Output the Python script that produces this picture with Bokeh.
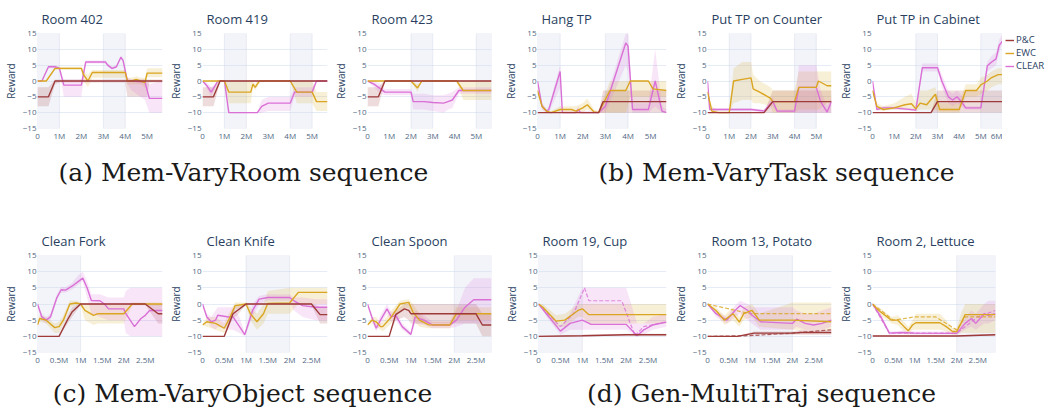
from bokeh.plotting import figure
from bokeh.layouts import column, row
from bokeh.models import (Range1d, FixedTicker, BoxAnnotation, Legend, LegendItem,
                          Label, CustomJSTickFormatter)
from bokeh.embed import file_html
from bokeh.resources import INLINE

PC_C = "#9E3A3A"
EWC_C = "#DAA520"
CLEAR_C = "#DA70D6"
FONT = "Open Sans"
TXT = "#2a3f5f"
SERIES_NAMES = ["P&C", "EWC", "CLEAR"]

# ---------------- (a) Mem-VaryRoom ----------------
r402_pc_x = [0, 0.5, 0.8, 1.0, 4.0, 4.1, 5.0, 5.1, 5.7]
r402_pc_y = [-5, -5, 0, 0, 0, 0, 0, 0, 0]
r402_pc_lo = [-8, -8, -1, -0.5, -0.5, -5, -5, -0.5, -0.5]
r402_pc_hi = [-2, -2, 0.5, 0.5, 0.5, 0.5, 0.5, 0.5, 0.5]
r402_ewc_x = [0, 0.4, 0.8, 2.0, 2.1, 2.3, 2.5, 4.0, 4.1, 4.3, 4.5, 4.7, 4.9, 5.0, 5.7]
r402_ewc_y = [0, 0, 4, 4, 2, 0, 2.7, 2.7, 0, 0, 0.5, 0, -0.5, 2.5, 2.5]
r402_ewc_lo = [0, 0, 3.5, 3.5, 0, -2, 1, 1, -1, -1, -1, -1, -2, 1.2, 1.2]
r402_ewc_hi = [0, 0, 4.5, 4.5, 3, 2, 3.5, 3.5, 1, 1, 1.5, 1, 1, 4, 4]
r402_clr_x = [0, 0.2, 0.5, 0.8, 1.0, 1.2, 2.0, 2.2, 3.1, 3.2, 3.4, 3.6, 3.8, 3.9, 4.1, 4.3, 4.9, 5.1, 5.7]
r402_clr_y = [0, 0, 4.5, 4.5, 4, -1.3, -1.3, 6, 6, 5, 4, 4.5, 7.5, 6.5, 0, 0, -0.3, -5.5, -5.5]
r402_clr_lo = [0, 0, 4, 4, 3.5, -5, -5, 5.5, 5.5, 4.5, 3.5, 4, 7, 6, -1, -3, -6, -10, -10]
r402_clr_hi = [0, 0, 5, 5, 4.5, 0.5, 0.5, 6.5, 6.5, 5.5, 4.5, 5, 8, 7, 1, 0.5, 0.5, -1, 0]

r419_pc_x = [0, 0.5, 0.8, 5.7]
r419_pc_y = [-5, -5, 0, 0]
r419_pc_lo = [-8, -8, -0.3, -0.3]
r419_pc_hi = [-2, -2, 0.3, 0.3]
r419_ewc_x = [0, 1.0, 1.2, 2.2, 2.3, 2.4, 2.5, 2.6, 4.0, 4.3, 5.0, 5.2, 5.7]
r419_ewc_y = [0, 0, -3.5, -3.5, -1, -2, -1, 0, 0, -3.5, -3.5, -6.5, -6.5]
r419_ewc_lo = [0, 0, -7, -7, -2, -3, -2, 0, 0, -7, -7, -9.5, -9.5]
r419_ewc_hi = [0, 0, 0, 0, 0, -1, 0, 0, 0, 0, 0, -3.5, -3.5]
r419_clr_x = [0, 0.2, 0.4, 0.7, 1.0, 1.2, 2.5, 2.7, 3.0, 4.0, 4.2, 5.0, 5.2, 5.7]
r419_clr_y = [0, -1.5, -3.5, 0, 0, -10, -10, -8, -7, -7, -3.5, -3.5, 0, 0]
r419_clr_lo = [0, -2.5, -5, 0, 0, -10.2, -10.2, -10, -9.5, -9.5, -5, -5, 0, 0]
r419_clr_hi = [0, -0.5, -2, 0, 0, -9.8, -9.8, -6, -5, -5, -2, -2, 0, 0]

r423_pc_x = [0, 0.5, 0.8, 5.7]
r423_pc_y = [-5, -5, 0, 0]
r423_pc_lo = [-8, -8, -0.3, -0.3]
r423_pc_hi = [-2, -2, 0.3, 0.3]
r423_ewc_x = [0, 2.0, 2.3, 2.5, 4.1, 4.4, 5.7]
r423_ewc_y = [0, 0, -2.2, 0, 0, -3, -3]
r423_ewc_lo = [0, 0, -3.5, 0, 0, -6, -6]
r423_ewc_hi = [0, 0, -1, 0, 0, 0, 0]
r423_clr_x = [0, 0.3, 0.6, 0.8, 2.0, 2.1, 2.6, 3.0, 3.5, 3.7, 3.9, 4.2, 5.7]
r423_clr_y = [0, -1, -2.5, -3.5, -3.5, -6.5, -6.5, -6.8, -7, -6.5, -6, -3, -3]
r423_clr_lo = [0, -2, -4, -4.5, -4.5, -9, -9, -9.5, -10, -9, -8.5, -4, -4]
r423_clr_hi = [0, 0, -1, -2.5, -2.5, -4, -4, -4.5, -4.5, -4, -3.5, -2, -2]

# ---------------- (b) Mem-VaryTask ----------------
hang_pc_x = [0, 2.7, 2.9, 5.7]
hang_pc_y = [-10, -10, -6.5, -6.5]
hang_pc_lo = [-10, -10, -10, -10]
hang_pc_hi = [-10, -10, -3, -3]
hang_ewc_x = [0, 0.2, 0.4, 0.6, 1.0, 1.5, 1.7, 2.0, 2.2, 2.5, 2.7, 3.2, 3.9, 4.1, 4.9, 5.1, 5.7]
hang_ewc_y = [-3, -8, -9.5, -10, -9, -9, -9.5, -8.5, -7.5, -9.8, -10, -3, -3, 0, 0, -2.5, -3]
hang_ewc_lo = [-3, -9, -10, -10, -10, -10, -10, -10, -9, -10, -10, -10, -10, -5, -5, -5, -5]
hang_ewc_hi = [-3, -7, -9, -9.5, -8, -8, -8, -7, -5.5, -9, -9.5, 0, 0, 0, 0, 0, 0]
hang_clr_x = [0, 0.2, 0.4, 0.5, 1.0, 1.1, 1.7, 1.8, 1.9, 2.7, 3.0, 3.9, 4.0, 4.2, 4.9, 5.2, 5.5, 5.7]
hang_clr_y = [0, -8, -9.5, -9, 3, -10, -10, -9, -10, -10, -8, 12, 11, -9, -9, 0, -9.5, -10]
hang_clr_lo = [0, -9, -10, -10, -2, -10, -10, -10, -10, -10, -10, 5, 3, -10, -10, -8, -10, -10]
hang_clr_hi = [0, -7, -9, -8, 5, -9.5, -9.5, -8, -9.5, -9.5, -6, 15, 15, -7, -7, 10, -8, -9]

ctr_pc_x = [0, 2.6, 3.0, 5.7]
ctr_pc_y = [-10, -10, -6.5, -6.5]
ctr_pc_lo = [-10, -10, -10, -10]
ctr_pc_hi = [-10, -10, -3, -3]
ctr_ewc_x = [0, 0.2, 0.5, 1.0, 1.2, 1.6, 2.0, 2.1, 2.4, 2.9, 3.0, 4.0, 4.2, 5.0, 5.1, 5.5, 5.7]
ctr_ewc_y = [-3.5, -9.5, -10, -10, 0, 0.5, 1, -2.5, -3.5, -5.5, -6.5, -6.5, -2, -2, 0, -1.5, -1.5]
ctr_ewc_lo = [-3.5, -10, -10, -10, -7, -6, -6, -7, -7, -8, -10, -10, -9, -9, -9, -7, -7]
ctr_ewc_hi = [-3.5, -8, -9.5, -9.5, 4, 6, 6, 2, 0, -2, -3, -3, 3, 3, 3, 3, 3]
ctr_clr_x = [0, 0.1, 1.0, 2.0, 2.6, 3.0, 3.2, 4.0, 4.2, 5.0, 5.2, 5.5, 5.7]
ctr_clr_y = [0, -9, -9, -9, -9.5, -6.5, -9.5, -9.5, -2, -2, -6.5, -9.8, -6.5]
ctr_clr_lo = [0, -9.5, -9.5, -9.5, -10, -8, -10, -10, -10, -10, -10, -10, -10]
ctr_clr_hi = [0, -8.5, -8.5, -8.5, -9, -5, -9, -9, 5, 5, -3, -8, -5]

cab_pc_x = [0, 2.7, 3.0, 6.0]
cab_pc_y = [-10, -10, -6.5, -6.5]
cab_pc_lo = [-10, -10, -10, -10]
cab_pc_hi = [-10, -10, -3, -3]
cab_ewc_x = [0, 0.2, 0.5, 1.0, 1.5, 1.8, 2.0, 2.2, 2.5, 2.9, 3.1, 4.0, 4.3, 4.8, 5.0, 5.3, 5.5, 5.8, 6.0]
cab_ewc_y = [-3, -8, -9, -8.5, -7.5, -7.2, -8.8, -7, -7.5, -4.2, -9, -9, -3, -3, -1.2, 0, 1.1, 2, 2]
cab_ewc_lo = [-3, -9, -9.5, -9, -9, -9, -9.5, -9, -9, -9, -10, -10, -5, -5, -4, -3, -2, -1, -1]
cab_ewc_hi = [-3, -7, -8, -7, -5, -4, -7, -3, -3, -2, -7, -7, -1, -1, 1, 2, 3, 4, 4]
cab_clr_x = [0, 0.2, 0.5, 1.0, 2.0, 2.3, 3.0, 3.2, 3.5, 3.7, 3.9, 4.1, 4.3, 5.0, 5.3, 5.5, 5.7, 5.85, 6.0]
cab_clr_y = [0, -9, -8.5, -8.5, -9.2, 4.2, 4.2, 0, -5, -6, -5, -6.5, -8.5, -8.5, 4.8, 6, 7, 11.3, 12.6]
cab_clr_lo = [0, -9.5, -9, -9, -9.5, 3, 3, -2, -7, -8, -7, -8, -9, -9, 3, 4, 5, 9, 12]
cab_clr_hi = [0, -8.5, -8, -8, -8.8, 5.5, 5.5, 2, -3, -4, -3, -4.5, -8, -8, 6, 8, 9, 13, 15]

# ---------------- (c) Mem-VaryObject ----------------
fork_pc_x = [0, 0.5, 0.7, 0.8, 1.0, 2.5, 2.8, 2.9]
fork_pc_y = [-10, -10, -4.8, -2.5, 0, 0, -3, -3]
fork_pc_lo = [-10, -10, -6, -4, -0.3, -0.3, -6, -6]
fork_pc_hi = [-10, -10, -3.5, -1, 0.3, 0.3, 0, 0]
fork_ewc_x = [0, 0.05, 0.2, 0.4, 0.5, 0.6, 0.75, 0.9, 1.0, 1.1, 1.3, 1.4, 2.0, 2.2, 2.9]
fork_ewc_y = [-6.5, -4.5, -5, -7.3, -7, -5, 0, 0.3, 0, -2, -3.5, -3, -3, 0, 0]
fork_ewc_lo = [-6.5, -5.5, -6, -9, -9, -6.5, -1, -0.5, -0.5, -5, -6.5, -6, -6, -0.5, -0.5]
fork_ewc_hi = [-6.5, -3.5, -4, -6, -5.5, -3.5, 1, 1, 0.5, 0, 0, 0, 0, 0.5, 0.5]
fork_clr_x = [0, 0.1, 0.2, 0.3, 0.45, 0.55, 0.65, 0.8, 0.95, 1.05, 1.15, 1.25, 1.45, 1.55, 1.65, 2.0, 2.05,
              2.15, 2.25, 2.4, 2.5, 2.6, 2.9]
fork_clr_y = [0, -4, -5, -4, 2, 4.4, 4.3, 5.5, 7, 8, 5, 1.1, 1, 0, -1.5, -1.5, -3, -5, -7, -4.5, -3.5, -2, -2]
fork_clr_lo = [0, -5, -6, -5, 1, 3.5, 3.5, 4.5, 6, 7, 2, -3, -4, -4.5, -5, -5, -9, -10, -10, -10, -10, -10, -10]
fork_clr_hi = [0, -3, -4, -3, 3, 5.3, 5.2, 6.5, 9, 10, 7, 3, 3, 2.5, 2, 2, 4, 5, 5, 5, 5, 5, 5]

knife_pc_x = [0, 0.5, 0.7, 0.8, 0.95, 1.0, 2.5, 2.7, 2.87]
knife_pc_y = [-10, -10, -3, -2, -0.5, 0, 0, -3.3, -3.3]
knife_pc_lo = [-10, -10, -4.5, -3.5, -1, -0.3, -0.3, -6, -6]
knife_pc_hi = [-10, -10, -1.5, -0.5, 0, 0.3, 0.3, -1, -1]
knife_ewc_x = [0, 0.1, 0.3, 0.5, 0.6, 0.75, 1.0, 1.1, 1.25, 1.4, 1.5, 2.0, 2.2, 2.87]
knife_ewc_y = [-6.5, -5.5, -6, -7.5, -5, -0.5, 0, -3, -5.5, -3, 0.2, 0.3, 3.6, 3.6]
knife_ewc_lo = [-6.5, -7, -8, -9, -7, -1.5, -0.5, -5, -8, -6, -3, -3, 0, 0]
knife_ewc_hi = [-6.5, -4, -4, -6, -3, 0.5, 0.5, -1, -3, 0, 4, 5, 5, 5]
knife_clr_x = [0, 0.1, 0.2, 0.3, 0.35, 0.6, 0.7, 0.85, 0.97, 1.15, 1.3, 1.5, 2.0, 2.1, 2.3, 2.6, 2.87]
knife_clr_y = [0, -4, -5.5, -5, -3.5, -4, -4, -7, -9.5, -2, 1.5, 2, 2, 1, -0.5, -1, -1]
knife_clr_lo = [0, -5, -7, -8, -7, -8, -8, -9, -10, -4, 0, 1, 1, -2, -4, -5, -5]
knife_clr_hi = [0, -3, -4, -2, -1, -1, -1, -4, -9, 0, 2.5, 3, 3, 2, 2, 1.5, 1.5]

spoon_pc_x = [0, 0.5, 0.65, 0.85, 0.95, 1.0, 2.5, 2.65, 2.86]
spoon_pc_y = [-10, -10, -3.3, -1.5, -2, -3, -3, -6.5, -6.5]
spoon_pc_lo = [-10, -10, -5, -4, -5, -6, -6, -10, -10]
spoon_pc_hi = [-10, -10, -2, 0, 0, 0, 0, -3, -3]
spoon_ewc_x = [0, 0.1, 0.2, 0.3, 0.35, 0.55, 0.75, 0.95, 1.05, 1.2, 1.4, 1.9, 2.05, 2.86]
spoon_ewc_y = [-6.5, -5, -5.5, -7, -7, -4, 0, 0.5, -2.5, -5, -6.4, -6.5, -3, -3]
spoon_ewc_lo = [-6.5, -6, -7, -8, -8.5, -6, -2, -1, -5, -7, -7.5, -7.5, -5, -5]
spoon_ewc_hi = [-6.5, -4, -4, -6, -5.5, -2, 1, 1.5, 0, -3, -5.5, -5.5, -1, -1]
spoon_clr_x = [0, 0.1, 0.2, 0.3, 0.45, 0.55, 0.65, 0.8, 1.0, 1.1, 1.3, 1.5, 1.9, 2.05, 2.25, 2.45, 2.86]
spoon_clr_y = [0, -4, -7.5, -5, -1.5, -4, -3.5, -7, -9.4, -4, -5, -6.5, -6.5, -5, -1, 1.3, 1.3]
spoon_clr_lo = [0, -5, -8.5, -6.5, -3, -5.5, -5, -8, -10, -6, -6.5, -7.5, -7.5, -7, -6, -6, -6]
spoon_clr_hi = [0, -3, -6.5, -3.5, 0, -2.5, -2, -6, -8.5, -2, -3.5, -5.5, -5.5, -2, 5, 8, 8]

# ---------------- (d) Gen-MultiTraj ----------------
cup_pc_x = [0, 1.0, 2.0, 2.92]
cup_pc_y = [-10, -9.8, -9.5, -9.5]
cup_pc_lo = [-10.2, -10, -9.8, -9.8]
cup_pc_hi = [-9.8, -9.5, -9.2, -9.2]
cup_ewc_x = [0, 0.1, 0.4, 0.6, 0.8, 0.9, 1.0, 1.15, 2.92]
cup_ewc_y = [0, -1, -5.3, -5, -3, -2, -1.5, -3.3, -3.3]
cup_ewc_lo = [0, -2, -7, -7, -5, -4, -4, -6, -6]
cup_ewc_hi = [0, 0, -3.5, -3, -1, 0, 0, 0, 0]
cup_clr_x = [0, 0.24, 0.5, 0.72, 1.0, 1.2, 2.0, 2.25, 2.4, 2.6, 2.92]
cup_clr_y = [0, -4, -8.4, -6, -5, -6.3, -6.3, -9.8, -8, -6.5, -5.6]
cup_clr_lo = [0, -5, -9.5, -8, -8, -8, -8, -10, -9.5, -8, -7]
cup_clr_hi = [0, -3, -7, -3, 5, 5, 5, -6, -6, -4, -3]
cup_clrd_x = [0, 0.5, 0.8, 1.05, 1.15, 1.9, 2.2, 2.4, 2.92]
cup_clrd_y = [0, -7, -3, 5, 1, 1, -9.8, -7, -5.5]

pot_pc_x = [0, 0.7, 1.1, 2.0, 2.2, 2.92]
pot_pc_y = [-10, -10, -9, -9, -8.8, -8.8]
pot_pc_lo = [-10, -10, -9.5, -9.5, -9.5, -9.5]
pot_pc_hi = [-10, -10, -8.5, -8.5, -8, -8]
pot_ewc_x = [0, 0.2, 0.4, 0.6, 0.75, 0.85, 1.05, 1.22, 2.0, 2.92]
pot_ewc_y = [0, -2, -5, -3, -5.6, -3, -2, -5, -5, -5.5]
pot_ewc_lo = [0, -3, -6.5, -5, -7, -5, -4, -7, -8, -8]
pot_ewc_hi = [0, -1, -3.5, -1, -4, -1, 0, -3, 0.5, 0.5]
pot_clr_x = [0, 0.2, 0.45, 0.65, 0.77, 0.95, 1.05, 1.25, 2.0, 2.1, 2.3, 2.5, 2.7, 2.92]
pot_clr_y = [0, -3, -5, -2, -0.5, -2, -3.5, -5.5, -6, -4.7, -6, -6.5, -6, -5]
pot_clr_lo = [0, -4, -6, -4, -3, -5, -6, -8, -8, -7, -8, -8, -8, -7]
pot_clr_hi = [0, -2, -4, -0.5, 1, 0, -1, -1, -1, -2, -3, -3, -2, -1]
pot_pcd_x = [0, 1.0, 2.0, 2.92]
pot_pcd_y = [-10, -9.8, -9, -8]
pot_ewcd_x = [0, 1.0, 2.0, 2.92]
pot_ewcd_y = [0, -3, -3, -3]

let_pc_x = [0, 2.0, 2.92]
let_pc_y = [-9.9, -9.9, -9.5]
let_pc_lo = [-10, -10, -9.8]
let_pc_hi = [-9.7, -9.7, -9.2]
let_ewc_x = [0, 0.15, 0.25, 0.45, 0.6, 0.75, 0.85, 0.95, 1.03, 1.6, 1.75, 1.9, 2.0, 2.1, 2.2, 2.92]
let_ewc_y = [0, -2, -3, -5, -5, -7, -8.3, -6.5, -5.8, -5.8, -7, -8.5, -8.5, -6, -3.3, -3.3]
let_ewc_lo = [0, -3, -4, -6, -6.5, -8.5, -9.5, -8, -8, -8, -8.5, -9.5, -9.5, -9, -9, -9]
let_ewc_hi = [0, -1, -2, -4, -3.5, -5.5, -7, -5, -3, -3, -5, -7.5, -7.5, -3, 0, 0]
let_clr_x = [0, 0.2, 0.4, 0.7, 1.0, 2.0, 2.2, 2.35, 2.45, 2.65, 2.75, 2.92]
let_clr_y = [0, -4, -9, -8.8, -9, -9.1, -6, -4.5, -6, -3, -3.5, -3]
let_clr_lo = [0, -5, -9.5, -9.3, -9.5, -9.5, -8, -7, -8, -6, -6, -5]
let_clr_hi = [0, -3, -8.5, -8.3, -8.5, -8.5, -4, -2, -3, 0, 1, 1]
let_clrd_x = [0, 0.4, 1.0, 2.0, 2.5, 2.92]
let_clrd_y = [0, -9, -9, -9, -4, -2]
let_ewcd_x = [0, 0.5, 1.0, 1.5, 2.0, 2.2, 2.92]
let_ewcd_y = [0, -5, -4, -4, -8, -4, -4]

ROW1_TICKS = [0, 1, 2, 3, 4, 5]
ROW1_TICKS6 = [0, 1, 2, 3, 4, 5, 6]
ROW2_TICKS = [0, 0.5, 1, 1.5, 2, 2.5]

XFMT = "return tick == 0 ? '0' : tick + 'M';"
YFMT = "return tick < 0 ? '\\u2212' + Math.abs(tick) : '' + tick;"


def panel(title, xmax, shades, series, dashed, width, height, left, right, top, bottom, ticks):
    p = figure(width=width, height=height, x_range=Range1d(0, xmax), y_range=Range1d(-15, 15),
               output_backend="svg", toolbar_location=None,
               min_border_left=left, min_border_right=right,
               min_border_top=top, min_border_bottom=bottom)
    p.outline_line_color = None
    p.background_fill_color = "white"
    p.border_fill_color = "white"
    p.title.text = title
    p.title.text_font = FONT
    p.title.text_font_size = "13px"
    p.title.text_font_style = "normal"
    p.title.text_color = TXT
    p.title.align = "left"
    p.title.vertical_align = "top"
    p.title.offset = 4
    p.title.standoff = 8
    p.xgrid.visible = False
    p.ygrid.grid_line_color = "#E6ECF5"
    p.ygrid.grid_line_width = 1
    p.xaxis.ticker = FixedTicker(ticks=ticks)
    p.yaxis.ticker = FixedTicker(ticks=[-15, -10, -5, 0, 5, 10, 15])
    p.xaxis.formatter = CustomJSTickFormatter(code=XFMT)
    p.yaxis.formatter = CustomJSTickFormatter(code=YFMT)
    for ax in (p.xaxis, p.yaxis):
        ax.axis_line_color = None
        ax.major_tick_line_color = None
        ax.minor_tick_line_color = None
        ax.major_tick_out = 0
        ax.major_tick_in = 0
        ax.minor_tick_out = 0
        ax.minor_tick_in = 0
        ax.major_label_text_font = FONT
        ax.major_label_text_font_size = "8px"
        ax.major_label_text_color = "#506784"
        ax.major_label_standoff = 1
    p.yaxis.axis_label = "Reward"
    p.yaxis.axis_label_text_font = FONT
    p.yaxis.axis_label_text_font_size = "10px"
    p.yaxis.axis_label_text_font_style = "normal"
    p.yaxis.axis_label_text_color = TXT
    p.yaxis.axis_label_standoff = 2
    for a, b in shades:
        p.add_layout(BoxAnnotation(left=a, right=b, fill_color="#D5DCEC", fill_alpha=0.3,
                                   line_color="#C3CADF", line_width=1, level="underlay"))
    for (x, y, lo, hi, c) in series:
        p.varea(x=x, y1=lo, y2=hi, fill_color=c, fill_alpha=0.18)
    for (x, y, c) in dashed:
        p.line(x, y, line_color=c, line_width=1.2, line_dash="4 2", line_alpha=0.8)
    for (x, y, lo, hi, c) in reversed(series):
        p.line(x, y, line_color=c, line_width=1.4)
    return p


def legend_fig(width, height, top, bottom, series):
    # the series are drawn outside this figure's visible range; only the legend shows
    lf = figure(width=width, height=height, x_range=Range1d(0, 1), y_range=Range1d(100, 101),
                output_backend="svg", toolbar_location=None,
                min_border_left=3, min_border_right=0, min_border_top=top, min_border_bottom=bottom)
    lf.outline_line_color = None
    lf.axis.visible = False
    lf.grid.visible = False
    items = []
    for name, (x, y, lo, hi, c) in zip(SERIES_NAMES, series):
        r = lf.line(x=x, y=y, line_color=c, line_width=1.4)
        items.append(LegendItem(label=name, renderers=[r]))
    leg = Legend(items=items, location="top_left", margin=0, padding=0, spacing=-1,
                 label_text_font=FONT, label_text_font_size="9.5px", label_text_color=TXT,
                 glyph_width=9, glyph_height=10, label_height=10, label_standoff=2,
                 border_line_color=None, background_fill_alpha=0)
    lf.add_layout(leg)
    return lf


def trio(pcx, pcy, pclo, pchi, ex, ey, elo, ehi, cx, cy, clo, chi):
    return [(pcx, pcy, pclo, pchi, PC_C), (ex, ey, elo, ehi, EWC_C), (cx, cy, clo, chi, CLEAR_C)]


H1, T1, B1 = 150, 33, 22
H2, T2, B2 = 165, 50, 18

cab_series = trio(cab_pc_x, cab_pc_y, cab_pc_lo, cab_pc_hi, cab_ewc_x, cab_ewc_y, cab_ewc_lo, cab_ewc_hi,
                  cab_clr_x, cab_clr_y, cab_clr_lo, cab_clr_hi)

row1 = row(
    panel("Room 402", 5.7, [(0, 1), (3, 4)],
          trio(r402_pc_x, r402_pc_y, r402_pc_lo, r402_pc_hi, r402_ewc_x, r402_ewc_y, r402_ewc_lo, r402_ewc_hi,
               r402_clr_x, r402_clr_y, r402_clr_lo, r402_clr_hi), [],
          165, H1, 34, 3, T1, B1, ROW1_TICKS),
    panel("Room 419", 5.7, [(1, 2), (4, 5)],
          trio(r419_pc_x, r419_pc_y, r419_pc_lo, r419_pc_hi, r419_ewc_x, r419_ewc_y, r419_ewc_lo, r419_ewc_hi,
               r419_clr_x, r419_clr_y, r419_clr_lo, r419_clr_hi), [],
          165, H1, 33, 3, T1, B1, ROW1_TICKS),
    panel("Room 423", 5.7, [(2, 3), (5, 5.7)],
          trio(r423_pc_x, r423_pc_y, r423_pc_lo, r423_pc_hi, r423_ewc_x, r423_ewc_y, r423_ewc_lo, r423_ewc_hi,
               r423_clr_x, r423_clr_y, r423_clr_lo, r423_clr_hi), [],
          170, H1, 33, 9, T1, B1, ROW1_TICKS),
    panel("Hang TP", 5.7, [(0, 1), (3, 4)],
          trio(hang_pc_x, hang_pc_y, hang_pc_lo, hang_pc_hi, hang_ewc_x, hang_ewc_y, hang_ewc_lo, hang_ewc_hi,
               hang_clr_x, hang_clr_y, hang_clr_lo, hang_clr_hi), [],
          170, H1, 37, 4, T1, B1, ROW1_TICKS),
    panel("Put TP on Counter", 5.7, [(1, 2), (4, 5)],
          trio(ctr_pc_x, ctr_pc_y, ctr_pc_lo, ctr_pc_hi, ctr_ewc_x, ctr_ewc_y, ctr_ewc_lo, ctr_ewc_hi,
               ctr_clr_x, ctr_clr_y, ctr_clr_lo, ctr_clr_hi), [],
          165, H1, 33, 4, T1, B1, ROW1_TICKS),
    panel("Put TP in Cabinet", 6.0, [(2, 3), (5, 6)], cab_series, [],
          167, H1, 31, 0, T1, B1, ROW1_TICKS6),
    legend_fig(43, H1, T1, B1, cab_series),
    spacing=0)

row2 = row(
    panel("Clean Fork", 2.9, [(0, 1)],
          trio(fork_pc_x, fork_pc_y, fork_pc_lo, fork_pc_hi, fork_ewc_x, fork_ewc_y, fork_ewc_lo, fork_ewc_hi,
               fork_clr_x, fork_clr_y, fork_clr_lo, fork_clr_hi), [],
          165, H2, 34, 3, T2, B2, ROW2_TICKS),
    panel("Clean Knife", 2.87, [(1, 2)],
          trio(knife_pc_x, knife_pc_y, knife_pc_lo, knife_pc_hi, knife_ewc_x, knife_ewc_y, knife_ewc_lo,
               knife_ewc_hi, knife_clr_x, knife_clr_y, knife_clr_lo, knife_clr_hi), [],
          165, H2, 33, 3, T2, B2, ROW2_TICKS),
    panel("Clean Spoon", 2.86, [(2, 2.86)],
          trio(spoon_pc_x, spoon_pc_y, spoon_pc_lo, spoon_pc_hi, spoon_ewc_x, spoon_ewc_y, spoon_ewc_lo,
               spoon_ewc_hi, spoon_clr_x, spoon_clr_y, spoon_clr_lo, spoon_clr_hi), [],
          170, H2, 33, 9, T2, B2, ROW2_TICKS),
    panel("Room 19, Cup", 2.92, [(0, 1)],
          trio(cup_pc_x, cup_pc_y, cup_pc_lo, cup_pc_hi, cup_ewc_x, cup_ewc_y, cup_ewc_lo, cup_ewc_hi,
               cup_clr_x, cup_clr_y, cup_clr_lo, cup_clr_hi),
          [(cup_clrd_x, cup_clrd_y, CLEAR_C)],
          170, H2, 38, 4, T2, B2, ROW2_TICKS),
    panel("Room 13, Potato", 2.92, [(1, 2)],
          trio(pot_pc_x, pot_pc_y, pot_pc_lo, pot_pc_hi, pot_ewc_x, pot_ewc_y, pot_ewc_lo, pot_ewc_hi,
               pot_clr_x, pot_clr_y, pot_clr_lo, pot_clr_hi),
          [(pot_pcd_x, pot_pcd_y, PC_C), (pot_ewcd_x, pot_ewcd_y, EWC_C)],
          165, H2, 33, 4, T2, B2, ROW2_TICKS),
    panel("Room 2, Lettuce", 2.92, [(2, 2.92)],
          trio(let_pc_x, let_pc_y, let_pc_lo, let_pc_hi, let_ewc_x, let_ewc_y, let_ewc_lo, let_ewc_hi,
               let_clr_x, let_clr_y, let_clr_lo, let_clr_hi),
          [(let_clrd_x, let_clrd_y, CLEAR_C), (let_ewcd_x, let_ewcd_y, EWC_C)],
          210, H2, 32, 50, T2, B2, ROW2_TICKS),
    spacing=0)


def caption_bar(height, y, texts):
    c = figure(width=1045, height=height, x_range=Range1d(0, 1045), y_range=Range1d(0, height),
               output_backend="svg", toolbar_location=None, min_border=0)
    c.outline_line_color = None
    c.axis.visible = False
    c.grid.visible = False
    for x, t in texts:
        c.add_layout(Label(x=x, y=y, text=t, text_align="center", text_baseline="middle",
                           text_font="DejaVu Serif", text_font_size="25px", text_color="#1a1a1a"))
    return c


cap1 = caption_bar(55, 33, [(243, "(a) Mem-VaryRoom sequence"), (776, "(b) Mem-VaryTask sequence")])
cap2 = caption_bar(41, 18, [(242, "(c) Mem-VaryObject sequence"), (761, "(d) Gen-MultiTraj sequence")])

layout = column(row1, cap1, row2, cap2, spacing=0)
open("out.html", "w").write(file_html(layout, INLINE))
